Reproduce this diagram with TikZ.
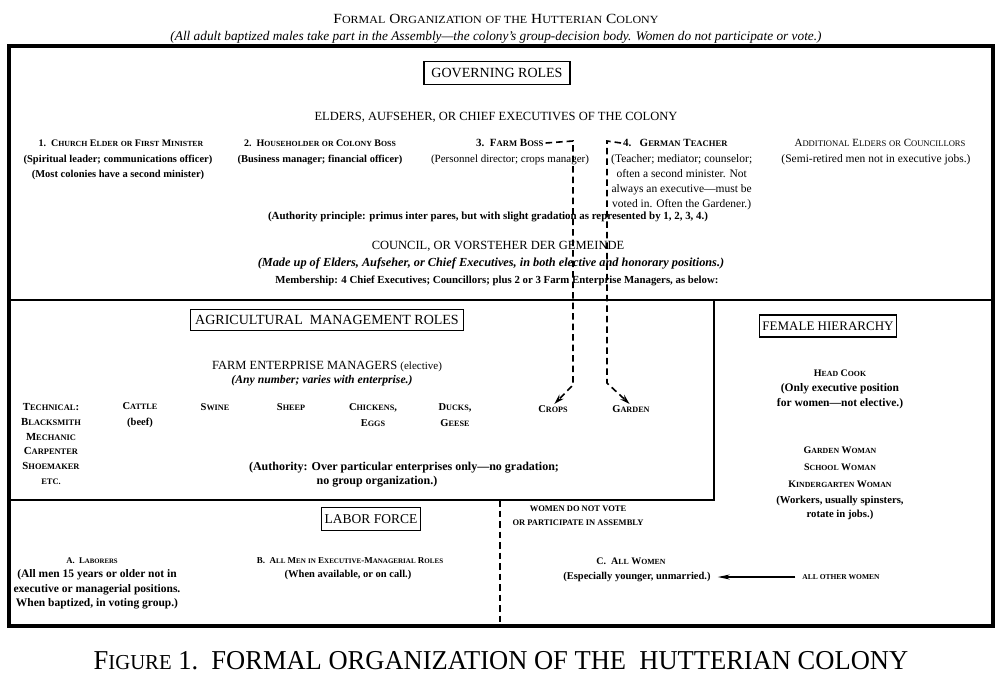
\documentclass[tikz,border=0pt]{standalone}
\usepackage{fontspec}
\usepackage{graphicx}
\setmainfont{Liberation Serif}
\usetikzlibrary{arrows.meta}
\makeatletter
\newcommand\sm[1]{{\edef\smsz{\fpeval{0.78*\f@size}}\fontsize{\smsz}{\smsz}\selectfont\MakeUppercase{#1}}}
\makeatother
\tikzset{
  tbox/.style={draw, line width=1.1pt, inner xsep=3pt, inner ysep=3pt, font=\fontsize{14}{16}\selectfont},
  thead/.style={inner sep=0pt, font=\fontsize{12.5}{14}\selectfont},
  tdesc/.style={inner sep=0pt, align=center, font=\bfseries\fontsize{10.5}{15}\selectfont},
  tdescr/.style={inner sep=0pt, align=center, font=\fontsize{10.5}{15}\selectfont},
  trole/.style={inner sep=0pt, align=center, font=\bfseries\fontsize{10}{15}\selectfont},
  tframe/.style={line width=3.5pt},
  tdiv/.style={line width=2.6pt},
  tdash/.style={line width=1.6pt, dash pattern=on 6.5pt off 4pt},
  ttip/.style={-{Stealth[length=10pt,width=6pt]}},
}
\begin{document}
\begin{tikzpicture}[x=1pt,y=-1pt]
\useasboundingbox (0,0) rectangle (1000,697);
% frame and dividers
\draw[tframe] (9,46) rectangle (993,626);
\draw[tdiv] (9,300) -- (993,300);
\draw[tdiv] (714,300) -- (714,500) -- (9,500);
\draw[tdash] (500,500) -- (500,626);

% titles
\node[inner sep=0pt] (title) at (496,19) {\scalebox{1.1}[1]{\fontsize{14}{16}\selectfont F\sm{ormal} O\sm{rganization} \sm{of the} H\sm{utterian} C\sm{olony}}};
\node[inner sep=0pt, font=\itshape\fontsize{13.3}{15}\selectfont] (sub) at (496,37) {(All adult baptized males take part in the Assembly---the colony's group-decision body. Women do not participate or vote.)};

% governing roles
\node[tbox, minimum width=146pt, minimum height=23pt] (gov) at (497,73) {GOVERNING ROLES};
\node[thead] (elders) at (496,117) {ELDERS, AUFSEHER, OR CHIEF EXECUTIVES OF THE COLONY};

\node[trole] (r1) at (121,143) {1.\ \ C\sm{hurch} E\sm{lder} \sm{or} F\sm{irst} M\sm{inister}};
\node[tdesc] (r1d) at (118,167.5) {(Spiritual leader; communications officer)\\(Most colonies have a second minister)};

\node[trole] (r2) at (320,143) {2.\ \ H\sm{ouseholder} \sm{or} C\sm{olony} B\sm{oss}};
\node[tdesc] (r2d) at (320,160) {(Business manager; financial officer)};

\node[trole, anchor=west, font=\bfseries\fontsize{11}{15}\selectfont] (r3) at (476,143) {3.\ \ F\sm{arm} B\sm{oss}};
\node[tdescr, font=\fontsize{11}{15}\selectfont] (r3d) at (510,160) {(Personnel director; crops manager)};

\node[trole, anchor=west, font=\bfseries\fontsize{11}{15}\selectfont] (r4) at (623,143) {4.\ \ \ G\sm{erman} T\sm{eacher}};
\node[tdescr, anchor=west, font=\fontsize{11.5}{15}\selectfont] (r4d) at (611,182.5) {(Teacher; mediator; counselor;\\often a second minister. Not\\always an executive---must be\\voted in. Often the Gardener.)};

\node[trole, font=\fontsize{11}{15}\selectfont] (r5) at (880,143) {A\sm{dditional} E\sm{lders} \sm{or} C\sm{ouncillors}};
\node[tdescr, font=\fontsize{11.5}{15}\selectfont] (r5d) at (876,160) {(Semi-retired men not in executive jobs.)};

\node[tdesc, font=\bfseries\fontsize{10.9}{15}\selectfont] (auth) at (488,217) {(Authority principle: primus inter pares, but with slight gradation as represented by 1, 2, 3, 4.)};

\node[thead] (council) at (498,246) {COUNCIL, OR VORSTEHER DER GEMEINDE};
\node[tdesc, font=\bfseries\itshape\fontsize{12.3}{14}\selectfont] (made) at (491,263) {(Made up of Elders, Aufseher, or Chief Executives, in both elective and honorary positions.)};
\node[tdesc, font=\bfseries\fontsize{10.8}{12}\selectfont] (memb) at (497,281) {Membership: 4 Chief Executives; Councillors; plus 2 or 3 Farm Enterprise Managers, as below:};

% agricultural
\node[tbox, minimum width=273pt, minimum height=21pt] (agr) at (327,320) {AGRICULTURAL\ \ MANAGEMENT ROLES};
\node[thead] (fem) at (327,367) {FARM ENTERPRISE MANAGERS {\fontsize{11}{12}\selectfont(elective)}};
\node[tdesc, font=\bfseries\itshape\fontsize{11.7}{13}\selectfont] (anynum) at (322,381) {(Any number; varies with enterprise.)};

\node[trole, font=\bfseries\fontsize{10.8}{14.8}\selectfont] (tech) at (51,444) {T\sm{echnical}:\\B\sm{lacksmith}\\M\sm{echanic}\\C\sm{arpenter}\\S\sm{hoemaker}\\\sm{etc.}};
\node[trole, font=\bfseries\fontsize{10.5}{16}\selectfont] (cattle) at (140,415) {C\sm{attle}\\(beef)};
\node[trole, font=\bfseries\fontsize{10.5}{16}\selectfont] (swine) at (215,407) {S\sm{wine}};
\node[trole, font=\bfseries\fontsize{10.5}{16}\selectfont] (sheep) at (291,407) {S\sm{heep}};
\node[trole, font=\bfseries\fontsize{10.5}{16}\selectfont] (chick) at (373,415) {C\sm{hickens},\\E\sm{ggs}};
\node[trole, font=\bfseries\fontsize{10.5}{16}\selectfont] (ducks) at (455,415) {D\sm{ucks},\\G\sm{eese}};
\node[trole, font=\bfseries\fontsize{10.5}{16}\selectfont] (crops) at (553,409) {C\sm{rops}};
\node[trole, font=\bfseries\fontsize{10.5}{16}\selectfont] (garden) at (631,409) {G\sm{arden}};

\node[tdesc, font=\bfseries\fontsize{12}{14}\selectfont] (auth2a) at (404,468) {(Authority: Over particular enterprises only---no gradation;};
\node[tdesc, font=\bfseries\fontsize{12}{14}\selectfont] (auth2b) at (377,482) {no group organization.)};

% female hierarchy
\node[tbox, font=\fontsize{13}{15}\selectfont, minimum width=132pt, minimum height=22pt] (femh) at (828,326) {FEMALE HIERARCHY};
\node[trole] (cook) at (840,373) {H\sm{ead} C\sm{ook}};
\node[tdesc, font=\bfseries\fontsize{11.5}{15}\selectfont] (cookd) at (840,396.5) {(Only executive position\\for women---not elective.)};
\node[trole, font=\bfseries\fontsize{10}{17}\selectfont] (gw) at (840,467) {G\sm{arden} W\sm{oman}\\S\sm{chool} W\sm{oman}\\K\sm{indergarten} W\sm{oman}};
\node[tdesc, font=\bfseries\fontsize{10.7}{14.5}\selectfont] (gwd) at (840,508) {(Workers, usually spinsters,\\rotate in jobs.)};

% labor force
\node[tbox, font=\fontsize{13.5}{15}\selectfont, minimum width=97pt, minimum height=23pt] (labor) at (371,519) {LABOR FORCE};
\node[trole, font=\bfseries\fontsize{8.7}{12}\selectfont] (la) at (92,561) {A.\ \ L\sm{aborers}};
\node[tdesc, font=\bfseries\fontsize{11.5}{14.5}\selectfont] (lad) at (97,589.5) {(All men 15 years or older not in\\executive or managerial positions.\\When baptized, in voting group.)};
\node[trole, font=\bfseries\fontsize{9}{12}\selectfont] (lb) at (350,561) {B.\ \ A\sm{ll} M\sm{en} \sm{in} E\sm{xecutive}-M\sm{anagerial} R\sm{oles}};
\node[tdesc] (lbd) at (348,575) {(When available, or on call.)};

% women
\node[trole, font=\bfseries\fontsize{8.5}{14}\selectfont] (novote) at (578,516) {WOMEN DO NOT VOTE\\OR PARTICIPATE IN ASSEMBLY};
\node[trole] (lc) at (631,561) {C.\ \ A\sm{ll} W\sm{omen}};
\node[tdesc] (lcd) at (637,577) {(Especially younger, unmarried.)};
\node[trole, font=\bfseries\fontsize{7.5}{9}\selectfont] (other) at (841,577) {ALL OTHER WOMEN};
\draw[line width=1.2pt, -{Stealth[length=12pt,width=5pt]}, shorten <=7pt, shorten >=7pt] (other.west) -- (lcd.east);

% dashed connectors
\draw[tdash, ttip, shorten >=2pt] ([xshift=2pt]r3.east) -- (573,141) -- (573,385) -- (crops.north);
\draw[tdash, ttip, shorten >=2pt] ([xshift=-2pt]r4.west) -- (607,141) -- (607,383) -- (garden.north);

% caption
\node[inner sep=0pt] (cap) at (501,661) {\scalebox{1.02}[1.05]{\fontsize{26}{28}\selectfont F\sm{igure} 1.\ \ FORMAL ORGANIZATION OF THE\ \ HUTTERIAN COLONY}};
\end{tikzpicture}
\end{document}
